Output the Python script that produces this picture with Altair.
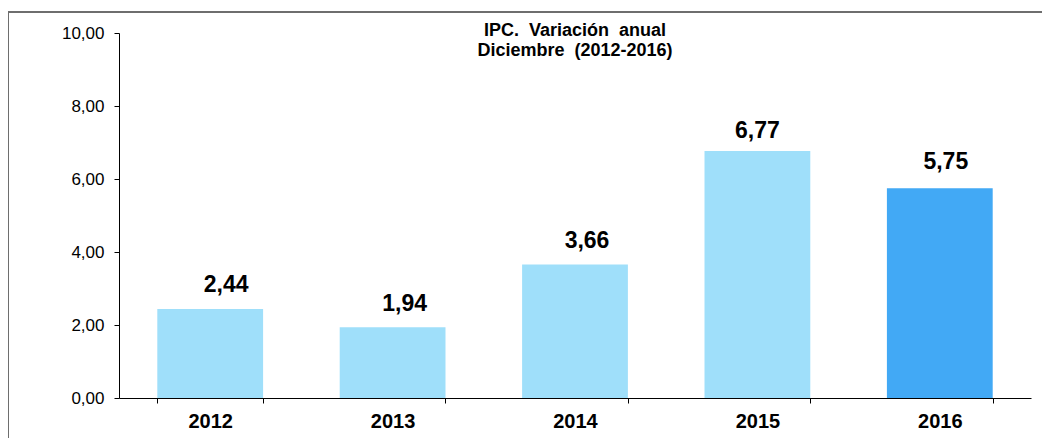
import altair as alt
import pandas as pd

years = ["2012", "2013", "2014", "2015", "2016"]
values = [2.44, 1.94, 3.66, 6.77, 5.75]
colors = ["#9FDFFA", "#9FDFFA", "#9FDFFA", "#9FDFFA", "#42A9F5"]
title_lines = ["IPC.\u00a0 Variación\u00a0 anual", "Diciembre\u00a0 (2012-2016)"]

df = pd.DataFrame({"year": years, "value": values, "color": colors})

W, H = 912, 365
FONT = "Liberation Sans"

base = alt.Chart(df).encode(
    x=alt.X("year:N", sort=years, title=None,
            scale=alt.Scale(paddingInner=0.42, paddingOuter=0.21),
            axis=alt.Axis(labelAngle=0, labelFont=FONT, labelFontSize=20,
                          labelFontWeight="bold", labelColor="#000",
                          labelPadding=8, tickBand="extent", tickSize=5,
                          domainColor="#000", tickColor="#000", grid=False)),
)

bars = base.mark_bar().encode(
    y=alt.Y("value:Q", title=None,
            scale=alt.Scale(domain=[0, 10], nice=False),
            axis=alt.Axis(values=[0, 2, 4, 6, 8, 10], grid=False,
                          labelExpr="replace(format(datum.value, '.2f'), '.', ',')",
                          labelFont=FONT, labelFontSize=17, labelColor="#000",
                          tickSize=5, labelPadding=10,
                          domainColor="#000", tickColor="#000")),
    color=alt.Color("color:N", scale=None),
)

# label placement nudges (as manually placed in the original chart)
nudges = {"2012": (16, -24), "2013": (12, -23), "2014": (12, -23),
          "2015": (0, -20), "2016": (6, -26)}

label_layers = []
for yr in years:
    ddx, ddy = nudges[yr]
    label_layers.append(
        base.transform_filter(alt.datum.year == yr).transform_calculate(
            lab="replace(format(datum.value, '.2f'), '.', ',')"
        ).mark_text(font=FONT, fontSize=23, fontWeight="bold", color="#000",
                    baseline="middle", dx=ddx, dy=ddy).encode(
            y=alt.Y("value:Q"),
            text="lab:N",
        )
    )

t1 = alt.Chart(pd.DataFrame({"line": [title_lines[0]]})).mark_text(
    font=FONT, fontSize=18, fontWeight="bold", color="#000", baseline="middle"
).encode(x=alt.value(W / 2), y=alt.value(-2), text="line:N")
t2 = alt.Chart(pd.DataFrame({"line": [title_lines[1]]})).mark_text(
    font=FONT, fontSize=18, fontWeight="bold", color="#000", baseline="middle"
).encode(x=alt.value(W / 2), y=alt.value(18), text="line:N")

border_v = alt.Chart(df.head(1)).mark_rule(color="#6E6E6E", strokeWidth=2).encode(
    x=alt.value(-111), y=alt.value(-21), y2=alt.value(H + 60))
border_h = alt.Chart(df.head(1)).mark_rule(color="#6E6E6E", strokeWidth=2).encode(
    x=alt.value(-111), x2=alt.value(W + 40), y=alt.value(-21))

chart = alt.layer(border_v, border_h, bars, *label_layers, t1, t2).properties(
    width=W, height=H,
    autosize=alt.AutoSizeParams(type="none"),
    padding={"left": 111, "top": 25, "right": 11, "bottom": 40},
).configure_view(stroke=None)

chart.save("out.html", embed_options={"renderer": "svg", "actions": False})
